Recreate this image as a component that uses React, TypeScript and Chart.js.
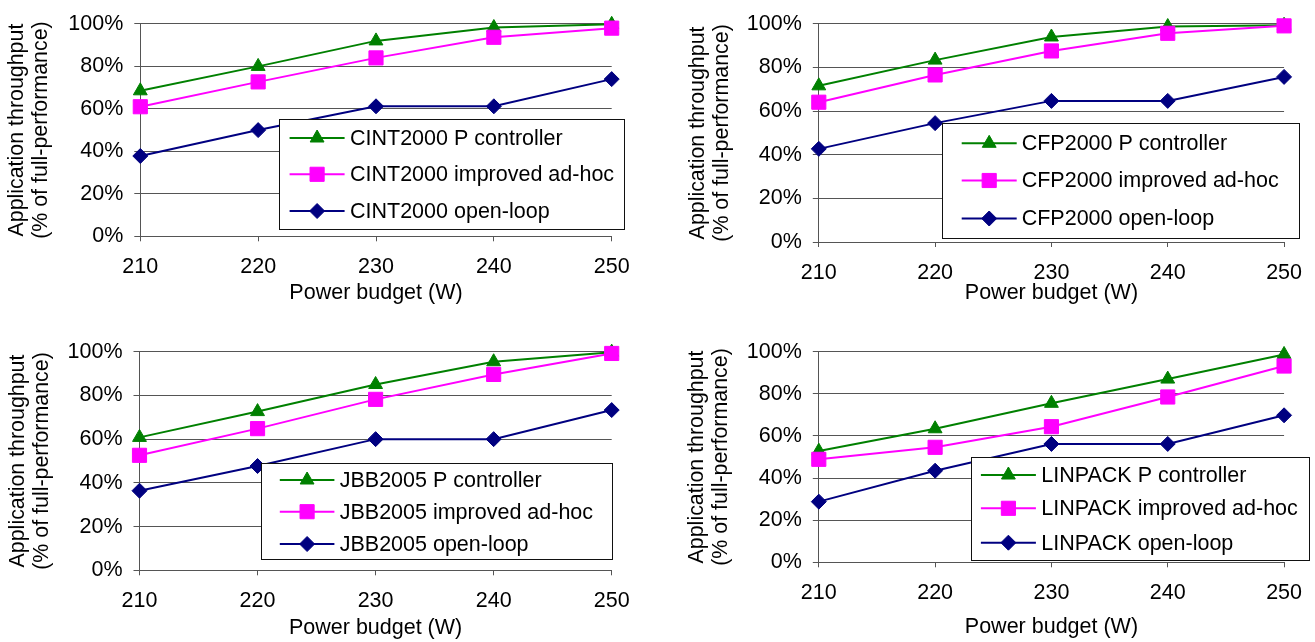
import React, { useEffect, useRef } from 'react';
import { Chart, registerables } from 'chart.js';

Chart.register(...registerables);

// ---------- data ----------
const POWER_BUDGETS = ['210', '220', '230', '240', '250'];
const SERIES_NAMES = ['P controller', 'improved ad-hoc', 'open-loop'];
const BENCHMARKS = ['CINT2000', 'CFP2000', 'JBB2005', 'LINPACK'];
const Y_TICK_STEP = 20;

const CINT2000_P = [68.5, 80.0, 92.0, 98.3, 99.8];
const CINT2000_ADHOC = [61.0, 72.7, 84.0, 93.7, 98.0];
const CINT2000_OPEN = [37.8, 50.0, 61.2, 61.2, 74.0];

const CFP2000_P = [71.6, 83.4, 94.0, 98.8, 99.4];
const CFP2000_ADHOC = [64.1, 76.6, 87.6, 95.7, 99.1];
const CFP2000_OPEN = [42.7, 54.5, 64.7, 64.7, 75.7];

const JBB2005_P = [60.8, 72.6, 85.0, 95.4, 99.8];
const JBB2005_ADHOC = [52.6, 64.8, 78.2, 89.6, 99.2];
const JBB2005_OPEN = [36.4, 47.7, 60.0, 60.0, 73.3];

const LINPACK_P = [52.8, 63.4, 75.5, 87.0, 98.7];
const LINPACK_ADHOC = [48.9, 54.6, 64.4, 78.5, 93.2];
const LINPACK_OPEN = [28.8, 43.5, 56.2, 56.2, 69.8];

const SERIES_BY_BENCHMARK: number[][][] = [
  [CINT2000_P, CINT2000_ADHOC, CINT2000_OPEN],
  [CFP2000_P, CFP2000_ADHOC, CFP2000_OPEN],
  [JBB2005_P, JBB2005_ADHOC, JBB2005_OPEN],
  [LINPACK_P, LINPACK_ADHOC, LINPACK_OPEN],
];

// ---------- styles & layout ----------
const FONT_FAMILY = '"Liberation Sans", Arial, Helvetica, sans-serif';
const FONT_SIZE = 21.5;
const Y_TITLE_SIZE = 21.4;
const Y_TITLE_LH = 24;
const GRID_COLOR = '#555555';

const SERIES_STYLE = [
  { color: '#008000', pointStyle: 'triangle', radius: 8, order: 3 },
  { color: '#FF00FF', pointStyle: 'rect', radius: 10, order: 2 },
  { color: '#000080', pointStyle: 'rectRot', radius: 7.5, order: 1 },
];

type PanelLayout = {
  canvas: { x: number; y: number; w: number; h: number };
  area: { l: number; t: number; r: number; b: number };
  xTitleY: number;
  yTitleX: number;
  legend: { x: number; y: number; w: number; h: number; rows: number[]; sx0: number; sx1: number; tx: number };
};

const PANELS: PanelLayout[] = [
  {
    canvas: { x: 0, y: 0, w: 660, h: 321 },
    area: { l: 140.3, t: 17.3, r: 611.7, b: 236.3 },
    xTitleY: 293,
    yTitleX: 17.5,
    legend: { x: 279, y: 119.3, w: 345.4, h: 110, rows: [138, 174.3, 211], sx0: 289.6, sx1: 344.6, tx: 350 },
  },
  {
    canvas: { x: 680, y: 0, w: 635, h: 321 },
    area: { l: 818.8, t: 17.3, r: 1290.2, b: 242 },
    xTitleY: 293,
    yTitleX: 698,
    legend: { x: 942, y: 122.7, w: 357.3, h: 115, rows: [143.3, 180.5, 218.5], sx0: 961.7, sx1: 1016.7, tx: 1021.7 },
  },
  {
    canvas: { x: 0, y: 321, w: 660, h: 321 },
    area: { l: 139.5, t: 351.7, r: 611.7, b: 570.3 },
    xTitleY: 627.7,
    yTitleX: 18.5,
    legend: { x: 260.5, y: 463.3, w: 351.2, h: 96, rows: [480, 511.7, 544], sx0: 279.8, sx1: 334.4, tx: 339.7 },
  },
  {
    canvas: { x: 680, y: 321, w: 635, h: 321 },
    area: { l: 818.8, t: 351.7, r: 1290.2, b: 562.3 },
    xTitleY: 626.7,
    yTitleX: 697,
    legend: { x: 971, y: 456.7, w: 337.8, h: 102.6, rows: [475, 508.3, 542.7], sx0: 980.9, sx1: 1035.9, tx: 1041.3 },
  },
];

function drawMarker(ctx: CanvasRenderingContext2D, style: string, r: number, x: number, y: number) {
  ctx.beginPath();
  if (style === 'triangle') {
    const s = Math.sin((2 * Math.PI) / 3) * r;
    ctx.moveTo(x, y - r);
    ctx.lineTo(x + s, y + r / 2);
    ctx.lineTo(x - s, y + r / 2);
    ctx.closePath();
  } else if (style === 'rect') {
    const s = Math.SQRT1_2 * r;
    ctx.rect(x - s, y - s, 2 * s, 2 * s);
  } else {
    ctx.moveTo(x - r, y);
    ctx.lineTo(x, y - r);
    ctx.lineTo(x + r, y);
    ctx.lineTo(x, y + r);
    ctx.closePath();
  }
  ctx.fill();
  ctx.stroke();
}

function makeLegendPlugin(p: PanelLayout) {
  return {
    id: 'boxLegend',
    afterDraw(chart: any) {
      const ctx: CanvasRenderingContext2D = chart.ctx;
      const ox = p.canvas.x;
      const oy = p.canvas.y;
      const L = p.legend;
      ctx.save();
      const bx = Math.round(L.x - ox) + 0.5;
      const by = Math.round(L.y - oy) + 0.5;
      const bw = Math.round(L.w);
      const bh = Math.round(L.h);
      ctx.fillStyle = '#ffffff';
      ctx.fillRect(bx, by, bw, bh);
      ctx.strokeStyle = '#111111';
      ctx.lineWidth = 1;
      ctx.strokeRect(bx, by, bw, bh);
      chart.data.datasets.forEach((ds: any, i: number) => {
        const st = SERIES_STYLE[i];
        const y = L.rows[i] - oy;
        const x0 = L.sx0 - ox;
        const x1 = L.sx1 - ox;
        ctx.strokeStyle = st.color;
        ctx.lineWidth = 2;
        ctx.beginPath();
        ctx.moveTo(x0, y);
        ctx.lineTo(x1, y);
        ctx.stroke();
        ctx.fillStyle = st.color;
        ctx.lineWidth = 1;
        drawMarker(ctx, st.pointStyle, st.radius, (x0 + x1) / 2, y);
        ctx.fillStyle = '#000000';
        ctx.font = `${FONT_SIZE}px ${FONT_FAMILY}`;
        ctx.textAlign = 'left';
        ctx.textBaseline = 'middle';
        ctx.fillText(ds.label, L.tx - ox, y + 1);
      });
      ctx.restore();
    },
  };
}

function Panel({ index }: { index: number }) {
  const ref = useRef<HTMLCanvasElement>(null);
  const p = PANELS[index];
  useEffect(() => {
    const canvas = ref.current;
    if (!canvas) return;
    const bench = BENCHMARKS[index];
    const series = SERIES_BY_BENCHMARK[index];
    const yAxisWidth = p.area.l - p.canvas.x;
    const xAxisHeight = p.canvas.y + p.canvas.h - p.area.b;
    const xTitleLH = FONT_SIZE * 1.2;
    const chart = new Chart(canvas, {
      type: 'line',
      data: {
        labels: POWER_BUDGETS,
        datasets: series.map((values, i) => {
          const st = SERIES_STYLE[i];
          return {
            label: `${bench} ${SERIES_NAMES[i]}`,
            data: values,
            borderColor: st.color,
            backgroundColor: st.color,
            borderWidth: 2,
            pointStyle: st.pointStyle as any,
            pointRadius: st.radius,
            pointBorderWidth: 1,
            pointBorderColor: st.color,
            pointBackgroundColor: st.color,
            tension: 0,
            fill: false,
            clip: false as any,
            order: st.order,
          };
        }),
      },
      options: {
        responsive: false,
        animation: false,
        devicePixelRatio: 1,
        events: [],
        layout: {
          padding: {
            top: p.area.t - p.canvas.y,
            right: p.canvas.x + p.canvas.w - p.area.r,
            left: 0,
            bottom: 0,
          },
        },
        plugins: {
          legend: { display: false },
          tooltip: { enabled: false },
          title: { display: false },
        },
        scales: {
          x: {
            type: 'category',
            offset: false,
            afterFit: (scale: any) => {
              scale.height = xAxisHeight;
            },
            grid: {
              drawOnChartArea: false,
              drawTicks: true,
              tickLength: 5,
              color: GRID_COLOR,
              lineWidth: 1,
            },
            border: { display: true, color: GRID_COLOR, width: 1 },
            ticks: {
              color: '#000000',
              padding: 13,
              maxRotation: 0,
              autoSkip: false,
              font: { family: FONT_FAMILY, size: FONT_SIZE, lineHeight: 1.2 },
            },
            title: {
              display: true,
              text: 'Power budget (W)',
              color: '#000000',
              font: { family: FONT_FAMILY, size: FONT_SIZE, lineHeight: 1.2 },
              padding: { top: 0, bottom: p.canvas.y + p.canvas.h - p.xTitleY - xTitleLH / 2 },
            },
          },
          y: {
            type: 'linear',
            min: 0,
            max: 100,
            afterFit: (scale: any) => {
              scale.width = yAxisWidth;
            },
            grid: {
              drawTicks: true,
              tickLength: 6,
              color: GRID_COLOR,
              lineWidth: 1,
            },
            border: { display: true, color: GRID_COLOR, width: 1 },
            ticks: {
              stepSize: Y_TICK_STEP,
              color: '#000000',
              padding: 11,
              font: { family: FONT_FAMILY, size: FONT_SIZE, lineHeight: 1.2 },
              callback: (v: any) => `${v}%`,
            },
            title: {
              display: true,
              text: ['Application throughput', '(% of full-performance)'],
              color: '#000000',
              font: { family: FONT_FAMILY, size: Y_TITLE_SIZE, lineHeight: Y_TITLE_LH / Y_TITLE_SIZE },
              padding: { top: p.yTitleX - p.canvas.x - Y_TITLE_LH / 2, bottom: 0 },
            },
          },
        },
      },
      plugins: [makeLegendPlugin(p)],
    } as any);
    return () => chart.destroy();
  }, [index]);
  return (
    <canvas
      ref={ref}
      width={p.canvas.w}
      height={p.canvas.h}
      style={{ position: 'absolute', left: p.canvas.x, top: p.canvas.y, width: p.canvas.w, height: p.canvas.h }}
    />
  );
}

export default function App() {
  return (
    <div style={{ position: 'absolute', left: 0, top: 0, width: 1315, height: 642, background: '#ffffff', overflow: 'hidden' }}>
      {PANELS.map((_, i) => (
        <Panel key={i} index={i} />
      ))}
    </div>
  );
}
